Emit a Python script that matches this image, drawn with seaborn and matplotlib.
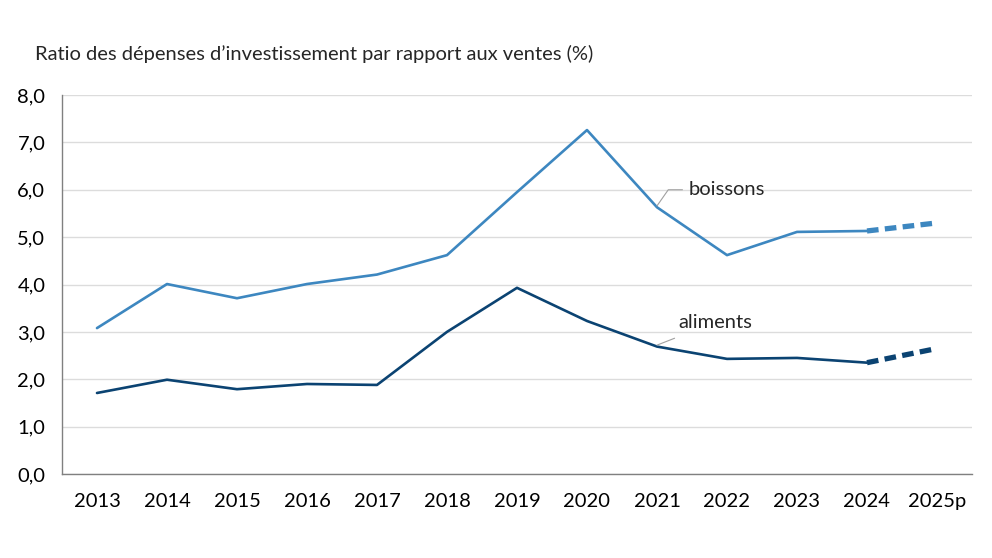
import matplotlib
matplotlib.use("Agg")
import matplotlib.pyplot as plt
import seaborn as sns
import pandas as pd

years = ["2013", "2014", "2015", "2016", "2017", "2018", "2019", "2020",
         "2021", "2022", "2023", "2024", "2025p"]
boissons = [3.08, 4.01, 3.71, 4.01, 4.21, 4.62, 5.95, 7.26, 5.63, 4.62, 5.11, 5.13, 5.30]
aliments = [1.71, 1.99, 1.79, 1.90, 1.88, 3.00, 3.93, 3.23, 2.69, 2.43, 2.45, 2.35, 2.65]
yticks = [0, 1, 2, 3, 4, 5, 6, 7, 8]
ylabels = ["0,0", "1,0", "2,0", "3,0", "4,0", "5,0", "6,0", "7,0", "8,0"]

c_b = "#3d87c0"
c_a = "#0b4372"
FS = 14.5

sns.set_theme(style="white")
plt.rcParams["font.family"] = ["Lato", "DejaVu Sans"]

fig = plt.figure(figsize=(9.92, 5.58), dpi=100)
ax = fig.add_axes([62/992, 1-474/558, (972-62)/992, (474-95)/558])

x = list(range(len(years)))
n = len(years)
df_b = pd.DataFrame({"x": x[:n-1], "y": boissons[:n-1]})
df_a = pd.DataFrame({"x": x[:n-1], "y": aliments[:n-1]})
df_bp = pd.DataFrame({"x": x[n-2:], "y": boissons[n-2:]})
df_ap = pd.DataFrame({"x": x[n-2:], "y": aliments[n-2:]})

sns.lineplot(data=df_b, x="x", y="y", color=c_b, lw=1.9, ax=ax)
sns.lineplot(data=df_a, x="x", y="y", color=c_a, lw=1.9, ax=ax)
sns.lineplot(data=df_bp, x="x", y="y", color=c_b, lw=3.8, ax=ax, dashes=False)
sns.lineplot(data=df_ap, x="x", y="y", color=c_a, lw=3.8, ax=ax, dashes=False)
for l in ax.lines[2:]:
    l.set_linestyle((0, (2.2, 1.2)))
    l.set_solid_capstyle("butt")

ax.set_xlim(-0.5, n - 0.5)
ax.set_ylim(0, 8)
ax.set_xticks(x)
ax.set_xticklabels(years)
ax.set_yticks(yticks)
ax.set_yticklabels(ylabels)
ax.tick_params(axis="both", labelsize=FS, colors="#000000", length=0)
ax.tick_params(axis="x", pad=14)
ax.tick_params(axis="y", pad=12)
ax.set_xlabel("")
ax.set_ylabel("")
ax.grid(axis="y", color="#dcdcdc", lw=1)
ax.set_axisbelow(True)
for s in ["top", "right"]:
    ax.spines[s].set_visible(False)
ax.spines["left"].set_color("#808080")
ax.spines["bottom"].set_color("#808080")
ax.spines["left"].set_linewidth(1)
ax.spines["bottom"].set_linewidth(1)

# annotations
ax.annotate("boissons", xy=(8.0, 5.66), xytext=(8.45, 6.0),
            fontsize=FS, va="center", ha="left",
            arrowprops=dict(arrowstyle="-", color="#a0a0a0", lw=0.8,
                            connectionstyle="angle,angleA=0,angleB=55,rad=0",
                            shrinkA=2, shrinkB=0))
ax.annotate("aliments", xy=(8.0, 2.72), xytext=(8.3, 3.2),
            fontsize=FS, va="center", ha="left",
            arrowprops=dict(arrowstyle="-", color="#a0a0a0", lw=0.8,
                            shrinkA=8, shrinkB=0))

fig.text(35/992, 1-54/558, "Ratio des dépenses d\u2019investissement par rapport aux ventes (%)",
         fontsize=FS, ha="left", va="center")

fig.savefig("out.png", dpi=100, facecolor="white")
